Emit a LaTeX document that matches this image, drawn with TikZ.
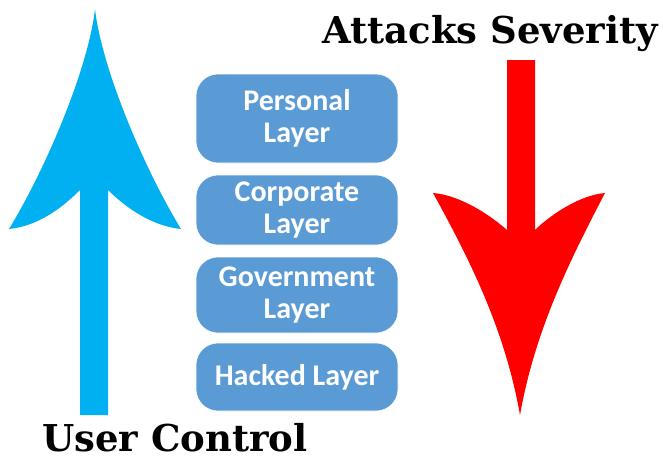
\documentclass[tikz,border=0pt]{standalone}
\usepackage{fontspec}
\setmainfont{Carlito}
\newfontfamily\titlefont{DejaVu Serif}
\definecolor{layerblue}{HTML}{5B9BD5}
\definecolor{ctrlblue}{HTML}{00B0F0}
\tikzset{
  layer/.style={fill=layerblue, draw=white, line width=0.6pt,
    rounded corners=22pt, minimum width=202pt, text=white, align=center,
    font=\bfseries\fontsize{30}{32}\selectfont, inner sep=0pt},
  title/.style={font=\titlefont\bfseries\fontsize{37}{40}\selectfont, inner sep=0pt}
}
\begin{document}
\begin{tikzpicture}[x=1pt,y=-1pt]
  \useasboundingbox (0,0) rectangle (663,459);
  % user control arrow
  \fill[ctrlblue] (95,9) .. controls (88,70) and (45,170) .. (9,229)
    .. controls (40,226) and (65,205) .. (80,190) -- (80,415) -- (108,415) -- (108,190)
    .. controls (123,205) and (150,226) .. (181,229)
    .. controls (145,170) and (102,70) .. (95,9) -- cycle;
  % attacks arrow
  \fill[red] (507,60) -- (535,60) -- (535,230)
    .. controls (550,215) and (580,195) .. (605,193)
    .. controls (570,260) and (535,330) .. (520,415)
    .. controls (505,330) and (470,260) .. (433,193)
    .. controls (460,195) and (490,215) .. (507,230) -- cycle;
  % layers
  \node[layer, minimum height=89pt] (personal) at (297,118.5) {Personal\\Layer};
  \node[layer, minimum height=70pt] (corporate) at (297,210) {Corporate\\Layer};
  \node[layer, minimum height=76pt] (government) at (297,295) {Government\\Layer};
  \node[layer, minimum height=68pt] (hacked) at (297,377) {Hacked Layer};
  \node[title, anchor=base west] (userctl) at (42,451) {User Control};
  \node[title, anchor=base east] (attacks) at (658,43) {Attacks Severity};
\end{tikzpicture}
\end{document}
